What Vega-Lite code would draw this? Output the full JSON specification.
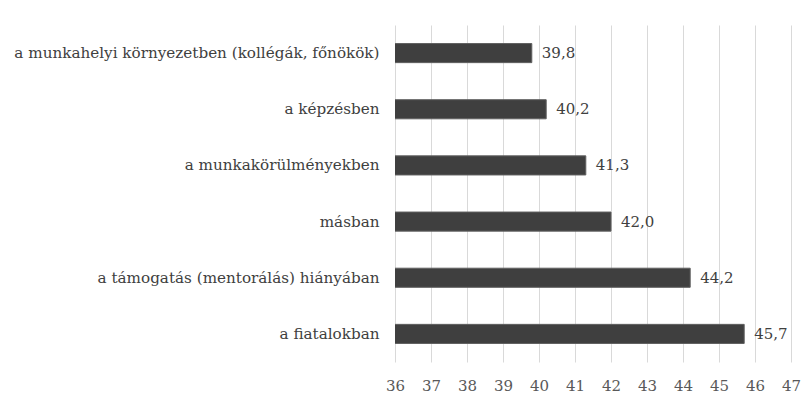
{
  "$schema": "https://vega.github.io/schema/vega-lite/v6.json",
  "width": 396,
  "height": 337,
  "autosize": {"type": "none"},
  "padding": {"left": 395, "top": 25, "right": 17, "bottom": 40},
  "background": "white",
  "config": {
    "view": {"stroke": null},
    "font": "DejaVu Serif",
    "locale": {"number": {"decimal": ",", "thousands": " ", "grouping": [3], "currency": ["", " Ft"]}}
  },
  "data": {
    "values": [
      {"category": "a munkahelyi környezetben (kollégák, főnökök)", "value": 39.8},
      {"category": "a képzésben", "value": 40.2},
      {"category": "a munkakörülményekben", "value": 41.3},
      {"category": "másban", "value": 42.0},
      {"category": "a támogatás (mentorálás) hiányában", "value": 44.2},
      {"category": "a fiatalokban", "value": 45.7}
    ]
  },
  "encoding": {
    "y": {
      "field": "category",
      "type": "nominal",
      "sort": null,
      "scale": {"paddingInner": 0.66, "paddingOuter": 0.33},
      "axis": {
        "title": null,
        "domain": false,
        "ticks": false,
        "labelPadding": 16,
        "labelFontSize": 15.2,
        "labelColor": "#404040",
        "labelFont": "DejaVu Serif",
        "labelLimit": 400
      }
    },
    "x": {
      "field": "value",
      "type": "quantitative",
      "scale": {"domain": [36, 47], "zero": false, "nice": false},
      "axis": {
        "title": null,
        "domain": false,
        "ticks": false,
        "values": [36, 37, 38, 39, 40, 41, 42, 43, 44, 45, 46, 47],
        "format": "d",
        "labelFlush": false,
        "grid": true,
        "gridColor": "#d9d9d9",
        "gridWidth": 1,
        "labelPadding": 16,
        "labelFontSize": 15,
        "labelColor": "#595959",
        "labelFont": "DejaVu Serif"
      }
    }
  },
  "layer": [
    {
      "mark": {"type": "bar", "clip": true, "color": "#3f3f3f", "stroke": "#606060", "strokeWidth": 1}
    },
    {
      "mark": {"type": "text", "align": "left", "baseline": "middle", "dx": 10, "fontSize": 15, "color": "#404040", "font": "DejaVu Serif"},
      "encoding": {
        "text": {"field": "value", "type": "quantitative", "format": ".1f"}
      }
    }
  ]
}
